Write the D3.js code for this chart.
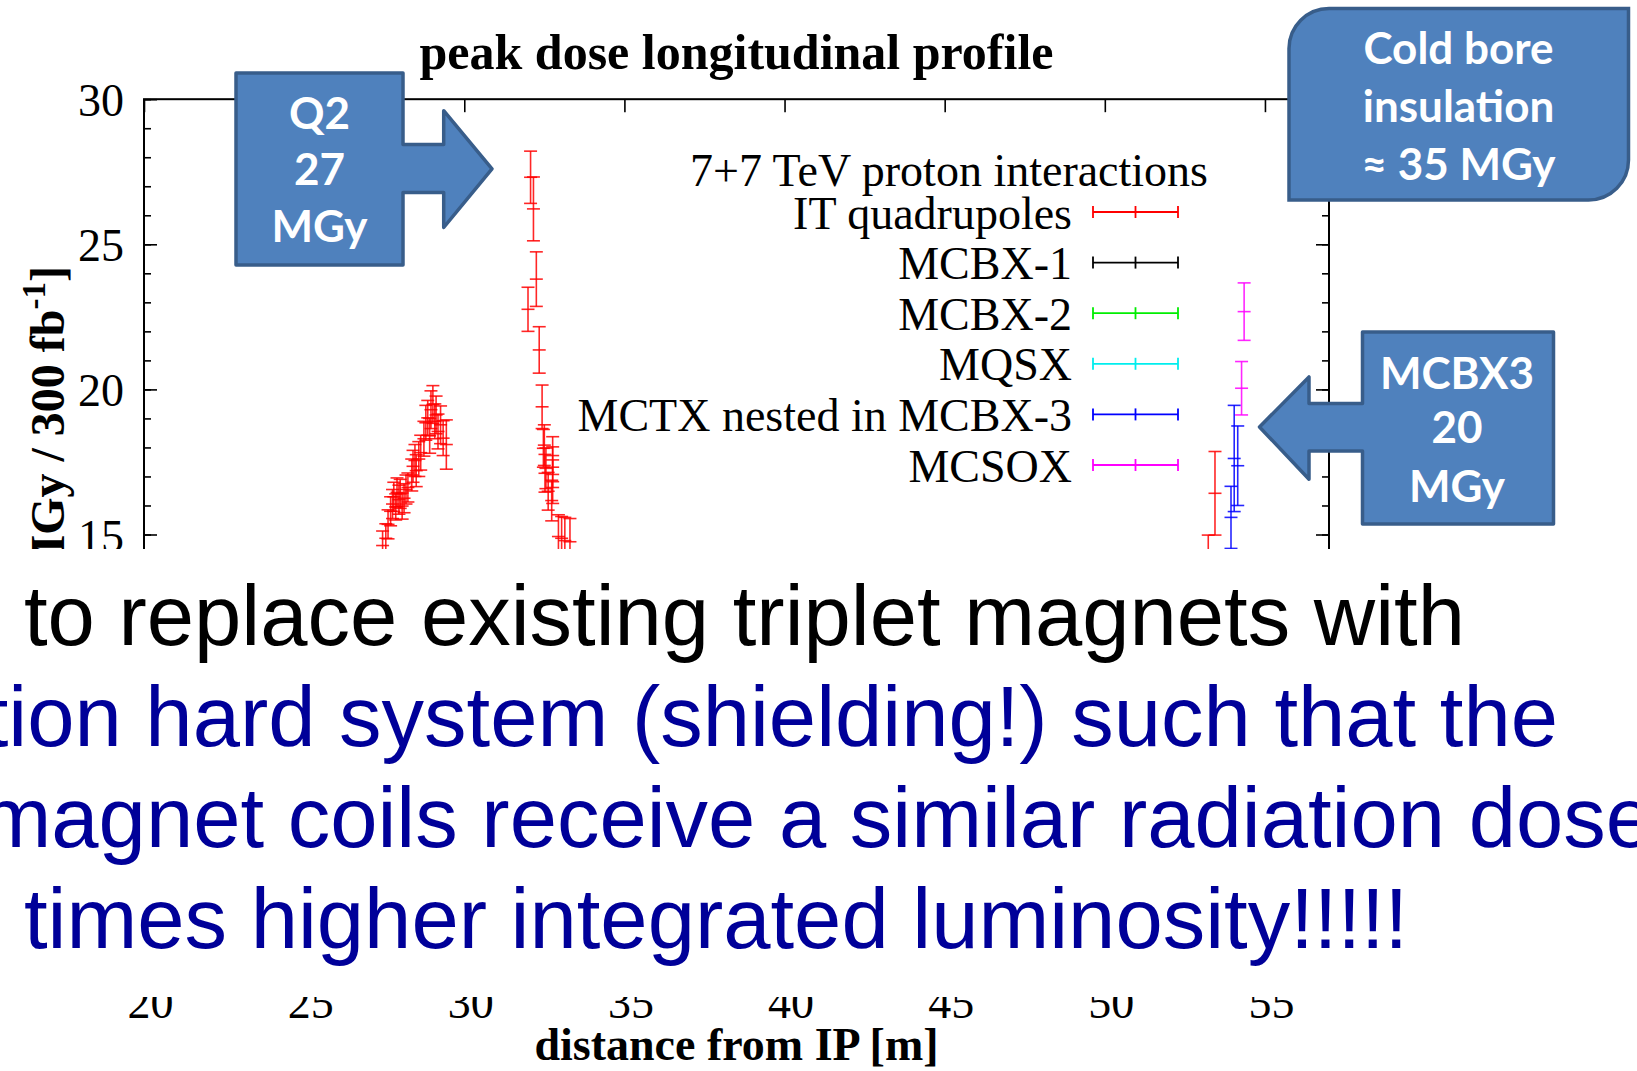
<!DOCTYPE html>
<html>
<head>
<meta charset="utf-8">
<script src="https://cdn.jsdelivr.net/npm/d3@7"></script>
<style>
  html, body { margin: 0; padding: 0; background: #ffffff; }
  svg { display: block; }
</style>
</head>
<body>
<div id="chart"></div>
<script>
// ---- data -------------------------------------------------------------
// IT quadrupoles: position along the beam line [m], peak dose [MGy], error
const quadPos  = [27.45, 27.55, 27.62, 27.70, 27.76, 27.80, 27.86, 27.90, 27.96, 28.00,
                  28.06, 28.12, 28.18, 28.24, 28.36, 28.40, 28.46, 28.50, 28.58, 28.64,
                  28.74, 28.80, 28.86, 28.92, 28.96, 29.02, 29.08, 29.12, 29.18, 29.26,
                  29.34, 29.44,
                  31.99, 32.07, 32.16, 32.25, 32.34, 32.43, 32.47, 32.50, 32.52, 32.55,
                  32.62, 32.73, 32.76, 32.76, 32.76, 32.94, 33.04, 33.14, 33.30,
                  53.23, 53.44];
const quadDose = [14.62, 14.87, 15.35, 15.80, 16.05, 16.30, 15.95, 16.45, 16.20, 16.40,
                  15.98, 16.25, 16.55, 16.62, 17.05, 17.35, 17.55, 17.20, 17.60, 17.82,
                  18.30, 18.85, 19.02, 18.40, 19.30, 19.48, 18.90, 19.12, 18.55, 18.78,
                  18.32, 18.10,
                  22.76, 27.31, 26.22, 23.80, 21.36, 19.40, 17.97, 18.08, 17.11, 17.28,
                  16.49, 16.17, 17.72, 17.32, 16.82, 14.93, 14.87, 14.79, 14.75,
                  13.55, 16.42];
const quadErr  = [0.50, 0.50, 0.50, 0.50, 0.50, 0.50, 0.45, 0.50, 0.50, 0.50,
                  0.45, 0.50, 0.50, 0.50, 0.55, 0.55, 0.55, 0.55, 0.60, 0.60,
                  0.60, 0.60, 0.60, 0.60, 0.65, 0.65, 0.60, 0.65, 0.60, 0.65,
                  0.60, 0.85,
                  0.76, 0.90, 1.10, 0.94, 0.80, 0.75, 0.65, 0.70, 0.65, 0.70,
                  0.65, 0.70, 0.65, 0.70, 0.75, 0.75, 0.75, 0.80, 0.80,
                  1.43, 1.44];

// MCTX nested in MCBX-3
const mctxPos  = [53.94, 54.04, 54.15];
const mctxDose = [15.59, 17.62, 17.37];
const mctxErr  = [1.07, 1.83, 1.37];

// MCSOX
const mcsoxPos  = [54.27, 54.35];
const mcsoxDose = [20.04, 22.68];
const mcsoxErr  = [0.92, 0.99];

// correctors whose points lie below the visible range
const emptyPos = [], emptyDose = [], emptyErr = [];

const series = [
  { name: "IT quadrupoles",         color: "#ff0000", pos: quadPos,  dose: quadDose,  err: quadErr },
  { name: "MCBX-1",                 color: "#000000", pos: emptyPos, dose: emptyDose, err: emptyErr },
  { name: "MCBX-2",                 color: "#00ee00", pos: emptyPos, dose: emptyDose, err: emptyErr },
  { name: "MQSX",                   color: "#00eeee", pos: emptyPos, dose: emptyDose, err: emptyErr },
  { name: "MCTX nested in MCBX-3",  color: "#0000ff", pos: mctxPos,  dose: mctxDose,  err: mctxErr },
  { name: "MCSOX",                  color: "#ff00ff", pos: mcsoxPos, dose: mcsoxDose, err: mcsoxErr }
];

const xTicks = [20, 25, 30, 35, 40, 45, 50, 55];
const yTicks = [15, 20, 25, 30];
const yMinorTicks = d3.range(0, 31, 1);

const chartTitle = "peak dose longitudinal profile";
const xTitle = "distance from IP [m]";
const legendTitle = "7+7 TeV proton interactions";

const slideLines = [
  { text: "to replace existing triplet magnets with",          color: "#000000", anchor: "start" },
  { text: "radiation hard system (shielding!) such that the",  color: "#000099", anchor: "end" },
  { text: "new magnet coils receive a similar radiation dose", color: "#000099", anchor: "end" },
  { text: "times higher integrated luminosity!!!!!",           color: "#000099", anchor: "start" }
];

// ---- layout -----------------------------------------------------------
const W = 1637, H = 1071;
const serif = "'Liberation Serif', 'Times New Roman', serif";
const sans  = "'Liberation Sans', Arial, sans-serif";
const calloutFont = "Lato, 'Open Sans', sans-serif";

const x = d3.scaleLinear().domain([20, 57]).range([144, 1329]);
const y = d3.scaleLinear().domain([0, 30]).range([969.8, 99.2]);

const svg = d3.select("#chart").append("svg")
  .attr("width", W).attr("height", H)
  .attr("viewBox", `0 0 ${W} ${H}`);

svg.append("rect").attr("width", W).attr("height", H).attr("fill", "#fff");

// ---- axes (ticks pointing inwards) -------------------------------------
function styleAxis(g) {
  g.select(".domain").remove();
  g.selectAll(".tick line").attr("stroke", "#000").attr("stroke-width", 1.6);
  g.selectAll("text").attr("font-family", serif).attr("font-size", 46).attr("fill", "#000");
}

svg.append("g").attr("transform", `translate(${x(20)},0)`)
  .call(d3.axisLeft(y).tickValues(yMinorTicks).tickSize(-7).tickFormat(""))
  .call(styleAxis);
svg.append("g").attr("transform", `translate(${x(20)},0)`)
  .call(d3.axisLeft(y).tickValues(yTicks).tickSize(-13).tickPadding(20))
  .call(styleAxis)
  .selectAll("text").attr("dy", "0.36em");

svg.append("g").attr("transform", `translate(${x(57)},0)`)
  .call(d3.axisRight(y).tickValues(yMinorTicks).tickSize(-7).tickFormat(""))
  .call(styleAxis);
svg.append("g").attr("transform", `translate(${x(57)},0)`)
  .call(d3.axisRight(y).tickValues(yTicks).tickSize(-13).tickFormat(""))
  .call(styleAxis);

svg.append("g").attr("transform", `translate(0,${y(30)})`)
  .call(d3.axisTop(x).tickValues(xTicks).tickSize(-13).tickFormat(""))
  .call(styleAxis);
const xb = svg.append("g").attr("transform", `translate(0,${y(0)})`)
  .call(d3.axisBottom(x).tickValues(xTicks).tickSize(-13).tickPadding(16))
  .call(styleAxis);
xb.selectAll(".tick text").attr("dx", 6);

// plot frame
svg.append("rect")
  .attr("x", x(20)).attr("y", y(30))
  .attr("width", x(57) - x(20)).attr("height", y(0) - y(30))
  .attr("fill", "none").attr("stroke", "#000").attr("stroke-width", 2);

// ---- error bars -------------------------------------------------------
const cap = 6.5;
function drawErrorBars(g, s) {
  const pts = s.pos.map((p, i) => ({ p, d: s.dose[i], e: s.err[i] }));
  const grp = g.append("g").attr("stroke", s.color).attr("stroke-width", 1.6)
    .attr("fill", "none").attr("stroke-opacity", 0.85);
  const b = grp.selectAll("g").data(pts).join("g");
  b.append("line").attr("x1", d => x(d.p)).attr("x2", d => x(d.p))
    .attr("y1", d => y(d.d - d.e)).attr("y2", d => y(d.d + d.e));
  b.append("line").attr("x1", d => x(d.p) - cap).attr("x2", d => x(d.p) + cap)
    .attr("y1", d => y(d.d + d.e)).attr("y2", d => y(d.d + d.e));
  b.append("line").attr("x1", d => x(d.p) - cap).attr("x2", d => x(d.p) + cap)
    .attr("y1", d => y(d.d - d.e)).attr("y2", d => y(d.d - d.e));
  b.append("line").attr("x1", d => x(d.p) - cap).attr("x2", d => x(d.p) + cap)
    .attr("y1", d => y(d.d)).attr("y2", d => y(d.d));
}
const plotG = svg.append("g");
series.forEach(s => drawErrorBars(plotG, s));

// ---- legend -----------------------------------------------------------
const legX = 1072, legY0 = 212, legStep = 50.6;
svg.append("text").attr("x", 1208).attr("y", 186)
  .attr("text-anchor", "end").attr("font-family", serif).attr("font-size", 46)
  .text(legendTitle);
series.forEach((s, i) => {
  const ly = legY0 + i * legStep;
  svg.append("text").attr("x", legX).attr("y", ly).attr("dy", "0.36em")
    .attr("text-anchor", "end").attr("font-family", serif).attr("font-size", 46)
    .text(s.name);
  const g = svg.append("g").attr("stroke", s.color).attr("stroke-width", 1.8);
  g.append("line").attr("x1", 1093).attr("x2", 1178).attr("y1", ly).attr("y2", ly);
  g.append("line").attr("x1", 1093).attr("x2", 1093).attr("y1", ly - 6).attr("y2", ly + 6);
  g.append("line").attr("x1", 1178).attr("x2", 1178).attr("y1", ly - 6).attr("y2", ly + 6);
  g.append("line").attr("x1", 1135.5).attr("x2", 1135.5).attr("y1", ly - 6).attr("y2", ly + 6);
});

// ---- titles -----------------------------------------------------------
svg.append("text").attr("x", (x(20) + x(57)) / 2).attr("y", 69)
  .attr("text-anchor", "middle").attr("font-family", serif).attr("font-weight", "bold")
  .attr("font-size", 50).text(chartTitle);

const yl = svg.append("text")
  .attr("transform", "translate(64,266) rotate(-90)")
  .attr("text-anchor", "end").attr("font-family", serif).attr("font-weight", "bold")
  .attr("font-size", 48);
yl.append("tspan").text("Dose [MGy / 300 fb");
yl.append("tspan").attr("dy", -19).attr("font-size", 33).text("-1");
yl.append("tspan").attr("dy", 19).text("]");

// ---- slide text band covering the lower part of the plot ---------------
svg.append("rect").attr("x", 0).attr("y", 549).attr("width", W).attr("height", 997 - 549)
  .attr("fill", "#fff");

svg.append("text").attr("x", (x(20) + x(57)) / 2).attr("y", 1060)
  .attr("text-anchor", "middle").attr("font-family", serif).attr("font-weight", "bold")
  .attr("font-size", 46).text(xTitle);

const lineX = { start: 24, end: 1558 };
const lineBase = [645, 746, 847, 948];
slideLines.forEach((l, i) => {
  svg.append("text")
    .attr("x", i === 2 ? 1653 : lineX[l.anchor]).attr("y", lineBase[i])
    .attr("text-anchor", l.anchor)
    .attr("font-family", sans).attr("font-size", 85).attr("fill", l.color)
    .text(l.text);
});

// ---- callouts ---------------------------------------------------------
const calloutFill = "#4f81bd", calloutStroke = "#385d8a";

function calloutText(lines, cx, cys, size) {
  lines.forEach((t, i) => {
    svg.append("text").attr("x", cx).attr("y", cys[i]).attr("dy", "0.35em")
      .attr("text-anchor", "middle").attr("font-family", calloutFont)
      .attr("font-weight", "bold").attr("font-size", size).attr("fill", "#fff")
      .text(t);
  });
}

// right-pointing arrow callout
const p1 = d3.path();
p1.moveTo(236, 73); p1.lineTo(403, 73); p1.lineTo(403, 144.6);
p1.lineTo(443.7, 144.6); p1.lineTo(443.7, 110.7); p1.lineTo(492, 168.8);
p1.lineTo(443.7, 227.5); p1.lineTo(443.7, 192.5); p1.lineTo(403, 192.5);
p1.lineTo(403, 265); p1.lineTo(236, 265); p1.closePath();
svg.append("path").attr("d", p1.toString()).attr("fill", calloutFill)
  .attr("stroke", calloutStroke).attr("stroke-width", 3.5).attr("stroke-linejoin", "round");
calloutText(["Q2", "27", "MGy"], 319.5, [114, 170, 227], 44);

// rounded diagonal-corner box
const r = 40, bx0 = 1289, by0 = 8.5, bx1 = 1628.5, by1 = 200;
const p2 = d3.path();
p2.moveTo(bx0 + r, by0); p2.lineTo(bx1, by0); p2.lineTo(bx1, by1 - r);
p2.arcTo(bx1, by1, bx1 - r, by1, r); p2.lineTo(bx0, by1); p2.lineTo(bx0, by0 + r);
p2.arcTo(bx0, by0, bx0 + r, by0, r); p2.closePath();
svg.append("path").attr("d", p2.toString()).attr("fill", calloutFill)
  .attr("stroke", calloutStroke).attr("stroke-width", 3.5);
calloutText(["Cold bore", "insulation", "\u2248 35 MGy"], 1458.5, [49, 106.5, 165], 44);

// left-pointing arrow callout
const p3 = d3.path();
p3.moveTo(1362.5, 332); p3.lineTo(1553.5, 332); p3.lineTo(1553.5, 524);
p3.lineTo(1362.5, 524); p3.lineTo(1362.5, 451); p3.lineTo(1309, 451);
p3.lineTo(1309, 479.2); p3.lineTo(1259.5, 427); p3.lineTo(1309, 376.9);
p3.lineTo(1309, 403.6); p3.lineTo(1362.5, 403.6); p3.closePath();
svg.append("path").attr("d", p3.toString()).attr("fill", calloutFill)
  .attr("stroke", calloutStroke).attr("stroke-width", 3.5).attr("stroke-linejoin", "round");
calloutText(["MCBX3", "20", "MGy"], 1457, [373.7, 428, 486.5], 44);
</script>
</body>
</html>
